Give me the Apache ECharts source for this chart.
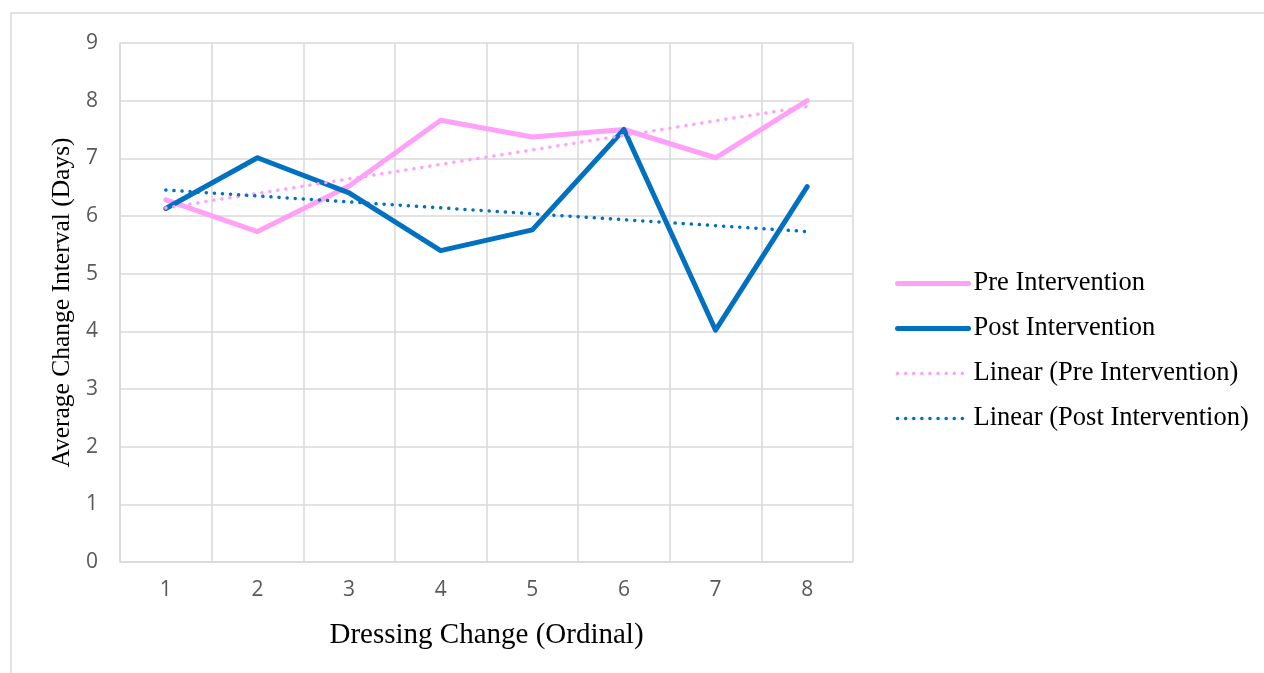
<!DOCTYPE html>
<html>
<head>
<meta charset="utf-8">
<script src="https://cdn.jsdelivr.net/npm/echarts@6/dist/echarts.min.js"></script>
<style>
html,body{margin:0;padding:0;background:#fff;}
#chart{width:1264px;height:673px;}
</style>
</head>
<body>
<div id="chart"></div>
<script>
const categories = ['1','2','3','4','5','6','7','8'];
const preIntervention = [6.28, 5.73, 6.52, 7.66, 7.37, 7.50, 7.01, 8.00];
const postIntervention = [6.13, 7.01, 6.40, 5.40, 5.76, 7.50, 4.02, 6.51];
// trendline endpoints (first and last category)
const preTrendEnds = [6.14, 7.90];
const postTrendEnds = [6.45, 5.73];
const yTicks = [0,1,2,3,4,5,6,7,8,9];

const PINK = '#FFA1F7';
const BLUE = '#0070C0';
const serif = '"Liberation Serif", "Times New Roman", serif';
const DOT = [0.1, 8];

const chart = echarts.init(document.getElementById('chart'), null, {renderer:'canvas'});
const last = categories.length - 1;
chart.setOption({
  animation: false,
  backgroundColor: '#fff',
  graphic: [{
    type: 'rect', silent: true, z: -10,
    shape: {x: 11, y: 13, width: 1400, height: 800},
    style: {fill: 'none', stroke: '#d9d9d9', lineWidth: 1.5}
  }],
  grid: {left: 120, right: 411, top: 43, bottom: 111, containLabel: false},
  legend: {
    orient: 'vertical',
    left: 890,
    top: 265,
    itemWidth: 71,
    itemHeight: 14,
    itemGap: 18,
    itemStyle: {opacity: 0},
    textStyle: {fontFamily: serif, fontSize: 26.5, color: '#000', lineHeight: 26},
    data: [
      {name: 'Pre Intervention', lineStyle: {width: 5, cap: 'round'}},
      {name: 'Post Intervention', lineStyle: {width: 5, cap: 'round'}},
      {name: 'Linear (Pre Intervention)', lineStyle: {width: 3.5, type: DOT, cap: 'round'}},
      {name: 'Linear (Post Intervention)', lineStyle: {width: 3.5, type: DOT, cap: 'round'}}
    ]
  },
  xAxis: {
    type: 'category',
    data: categories,
    boundaryGap: true,
    name: 'Dressing Change (Ordinal)',
    nameLocation: 'middle',
    nameGap: 59,
    nameTextStyle: {fontFamily: serif, fontSize: 29, color: '#000'},
    axisLine: {show: true, lineStyle: {color: '#d9d9d9', width: 1.5}},
    axisTick: {show: false},
    axisLabel: {fontFamily: '"Open Sans", sans-serif', fontSize: 21, color: '#595959', margin: 18},
    splitLine: {show: true, interval: 0, lineStyle: {color: '#d9d9d9', width: 1.5}}
  },
  yAxis: {
    type: 'value',
    min: yTicks[0],
    max: yTicks[yTicks.length-1],
    interval: 1,
    name: 'Average Change Interval (Days)',
    nameLocation: 'middle',
    nameGap: 45,
    nameTextStyle: {fontFamily: serif, fontSize: 25.5, color: '#000'},
    axisLine: {show: true, lineStyle: {color: '#d9d9d9', width: 1.5}},
    axisTick: {show: false},
    axisLabel: {fontFamily: '"Open Sans", sans-serif', fontSize: 21, color: '#595959', margin: 22},
    splitLine: {show: true, lineStyle: {color: '#d9d9d9', width: 1.5}}
  },
  series: [
    {
      name: 'Pre Intervention', type: 'line', data: preIntervention,
      symbol: 'none', color: PINK,
      lineStyle: {color: PINK, width: 5, join: 'round', cap: 'round'}, z: 3
    },
    {
      name: 'Post Intervention', type: 'line', data: postIntervention,
      symbol: 'none', color: BLUE,
      lineStyle: {color: BLUE, width: 5, join: 'round', cap: 'round'}, z: 4
    },
    {
      name: 'Linear (Pre Intervention)', type: 'line',
      data: [[0, preTrendEnds[0]], [last, preTrendEnds[1]]],
      symbol: 'none', color: PINK,
      lineStyle: {color: PINK, width: 3.5, type: DOT, cap: 'round'}, z: 5
    },
    {
      name: 'Linear (Post Intervention)', type: 'line',
      data: [[0, postTrendEnds[0]], [last, postTrendEnds[1]]],
      symbol: 'none', color: BLUE,
      lineStyle: {color: BLUE, width: 3.5, type: DOT, cap: 'round'}, z: 5
    }
  ]
});
</script>
</body>
</html>
